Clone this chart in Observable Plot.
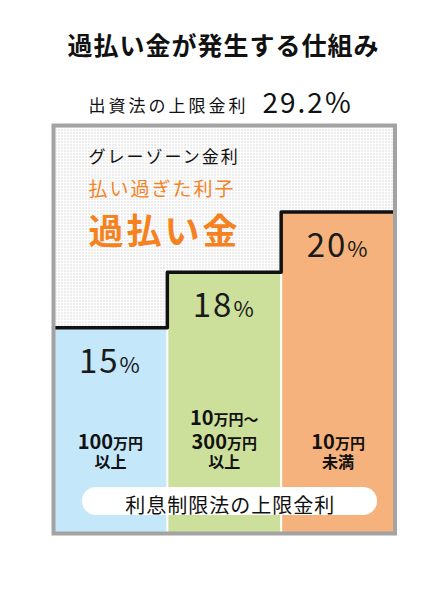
<!DOCTYPE html>
<html><head><meta charset="utf-8">
<script src="https://cdn.jsdelivr.net/npm/d3@7"></script>
<script src="https://cdn.jsdelivr.net/npm/@observablehq/plot@0.6"></script>
<style>
body{margin:0;background:#fff;}
#wrap{width:447px;height:600px;background:#fff;}
#title{height:80px;box-sizing:border-box;padding-top:30px;text-align:center;font:bold 25px/28px 'Noto Sans CJK JP',sans-serif;letter-spacing:1px;color:#111;}
.ls1 text{letter-spacing:1px}
.ls2 text{letter-spacing:2px}
.ls3 text{letter-spacing:3px}
</style>
</head><body>
<div id="wrap"><div id="title"></div><div id="chart"></div></div>
<script>
const titleText = "過払い金が発生する仕組み";
const categories = ["100万円\n以上", "10万円〜\n300万円\n以上", "10万円\n未満"];
const rates = [15, 18, 20];
const barColors = ["#c4e7f9", "#cde09b", "#f5b27c"];
const maxRate = 29.2;
const maxRateLabel = "出資法の上限金利";
const greyZoneLabels = ["グレーゾーン金利", "払い過ぎた利子", "過払い金"];
const floorLabel = "利息制限法の上限金利";
// piecewise vertical levels (px) for 0, each rate, and the max rate
const yRange = [453, 247.3, 191.8, 131.5, 45];

document.getElementById("title").textContent = titleText;

const data = rates.map((r, i) => ({i, rate: r, color: barColors[i], lines: categories[i].split("\n").reverse()}));
const stepData = [...data.map(d => ({x: d.i, y: d.rate})), {x: rates.length, y: rates[rates.length - 1]}];
const lineRows = [];
data.forEach(d => d.lines.forEach((t, k) => lineRows.push({i: d.i, k, t})));

const FONT = "'Noto Sans CJK JP', sans-serif";
const ORANGE = "#f5821f";

const plot = Plot.plot({
  width: 447, height: 520,
  marginTop: 45, marginBottom: 67, marginLeft: 53, marginRight: 52.5,
  style: {fontFamily: FONT, background: "white", color: "#111"},
  x: {type: "linear", domain: [0, rates.length], axis: null},
  y: {type: "linear", domain: [0, ...rates, maxRate], range: yRange, axis: null},
  color: {type: "identity"},
  marks: [
    Plot.frame({fill: "url(#dots)"}),
    Plot.rectY(data, {x1: "i", x2: d => d.i + 1, y1: 0, y2: "rate", fill: "color"}),
    Plot.ruleX(data.slice(1), {x: "i", y1: 0, y2: d => data[d.i - 1].rate, stroke: "white", strokeWidth: 2}),
    Plot.lineY(stepData, {x: "x", y: "y", curve: "step-after", stroke: "#111", strokeWidth: 3.5}),
    Plot.text(data, {x: d => d.i + 0.5, y: "rate", text: d => d.rate + "%", dy: 45, lineAnchor: "bottom", fontSize: 33, fill: "#1a1a1a", className: "pct ls2"}),
    Plot.text(lineRows.filter(r => r.k === 0), {x: d => d.i + 0.5, y: 0, text: "t", dy: -66, lineAnchor: "bottom", fontSize: 16, fontWeight: "bold", fill: "#111"}),
    Plot.text(lineRows.filter(r => r.k === 1), {x: d => d.i + 0.5, y: 0, text: "t", dy: -85, lineAnchor: "bottom", fontSize: 20, fontWeight: "bold", fill: "#111", className: "amt"}),
    Plot.text(lineRows.filter(r => r.k === 2), {x: d => d.i + 0.5, y: 0, text: "t", dy: -109, lineAnchor: "bottom", fontSize: 20, fontWeight: "bold", fill: "#111", className: "amt"}),
    Plot.rect([0], {x1: 0, x2: rates.length, y1: 0, y2: maxRate, insetLeft: 29, insetRight: 17.5, insetTop: 362, insetBottom: 18, rx: 14, fill: "white"}),
    Plot.text([floorLabel], {x: rates.length / 2, y: 0, text: d => d, dx: 6, dy: -21, lineAnchor: "bottom", fontSize: 20, fill: "#111", className: "ls1"}),
    Plot.text([greyZoneLabels[0]], {x: 0, y: maxRate, text: d => d, dx: 35, dy: 37, textAnchor: "start", lineAnchor: "bottom", fontSize: 17, fill: "#111", className: "ls2"}),
    Plot.text([greyZoneLabels[1]], {x: 0, y: maxRate, text: d => d, dx: 35, dy: 70, textAnchor: "start", lineAnchor: "bottom", fontSize: 19, fill: ORANGE, className: "ls2"}),
    Plot.text([greyZoneLabels[2]], {x: 0, y: maxRate, text: d => d, dx: 35, dy: 118, textAnchor: "start", lineAnchor: "bottom", fontSize: 35, fontWeight: "bold", fill: ORANGE, className: "ls3"}),
    Plot.text([maxRateLabel], {x: 0, y: maxRate, text: d => d, dx: 35, dy: -14, textAnchor: "start", lineAnchor: "bottom", fontSize: 17, fill: "#111", className: "ls3"}),
    Plot.text([maxRate], {x: 0, y: maxRate, text: d => d + "%", dx: 209, dy: -13, textAnchor: "start", lineAnchor: "bottom", fontSize: 28, fill: "#111", className: "ls2"}),
    Plot.frame({stroke: "#a3a3a3", strokeWidth: 4})
  ]
});

const svg = d3.select(plot);
const defs = svg.insert("defs", ":first-child");
const pat = defs.append("pattern").attr("id", "dots").attr("patternUnits", "userSpaceOnUse")
  .attr("width", 3).attr("height", 3);
pat.append("rect").attr("width", 3).attr("height", 3).attr("fill", "white");
pat.append("rect").attr("x", 1).attr("y", 1).attr("width", 1).attr("height", 1).attr("fill", "#b8b8b8");

svg.selectAll("g.pct text").each(function() {
  const t = this.textContent; const el = d3.select(this); el.text("");
  el.append("tspan").text(t.replace("%", ""));
  el.append("tspan").attr("font-size", 22).text("%");
});
svg.selectAll("g.amt text").each(function() {
  const t = this.textContent; const el = d3.select(this); el.text("");
  t.split(/(\d+)/).filter(s => s).forEach(s => {
    const sp = el.append("tspan").text(s);
    if (!/^\d+$/.test(s)) sp.attr("font-size", 15);
  });
});

document.getElementById("chart").appendChild(plot);
</script>
</body></html>
